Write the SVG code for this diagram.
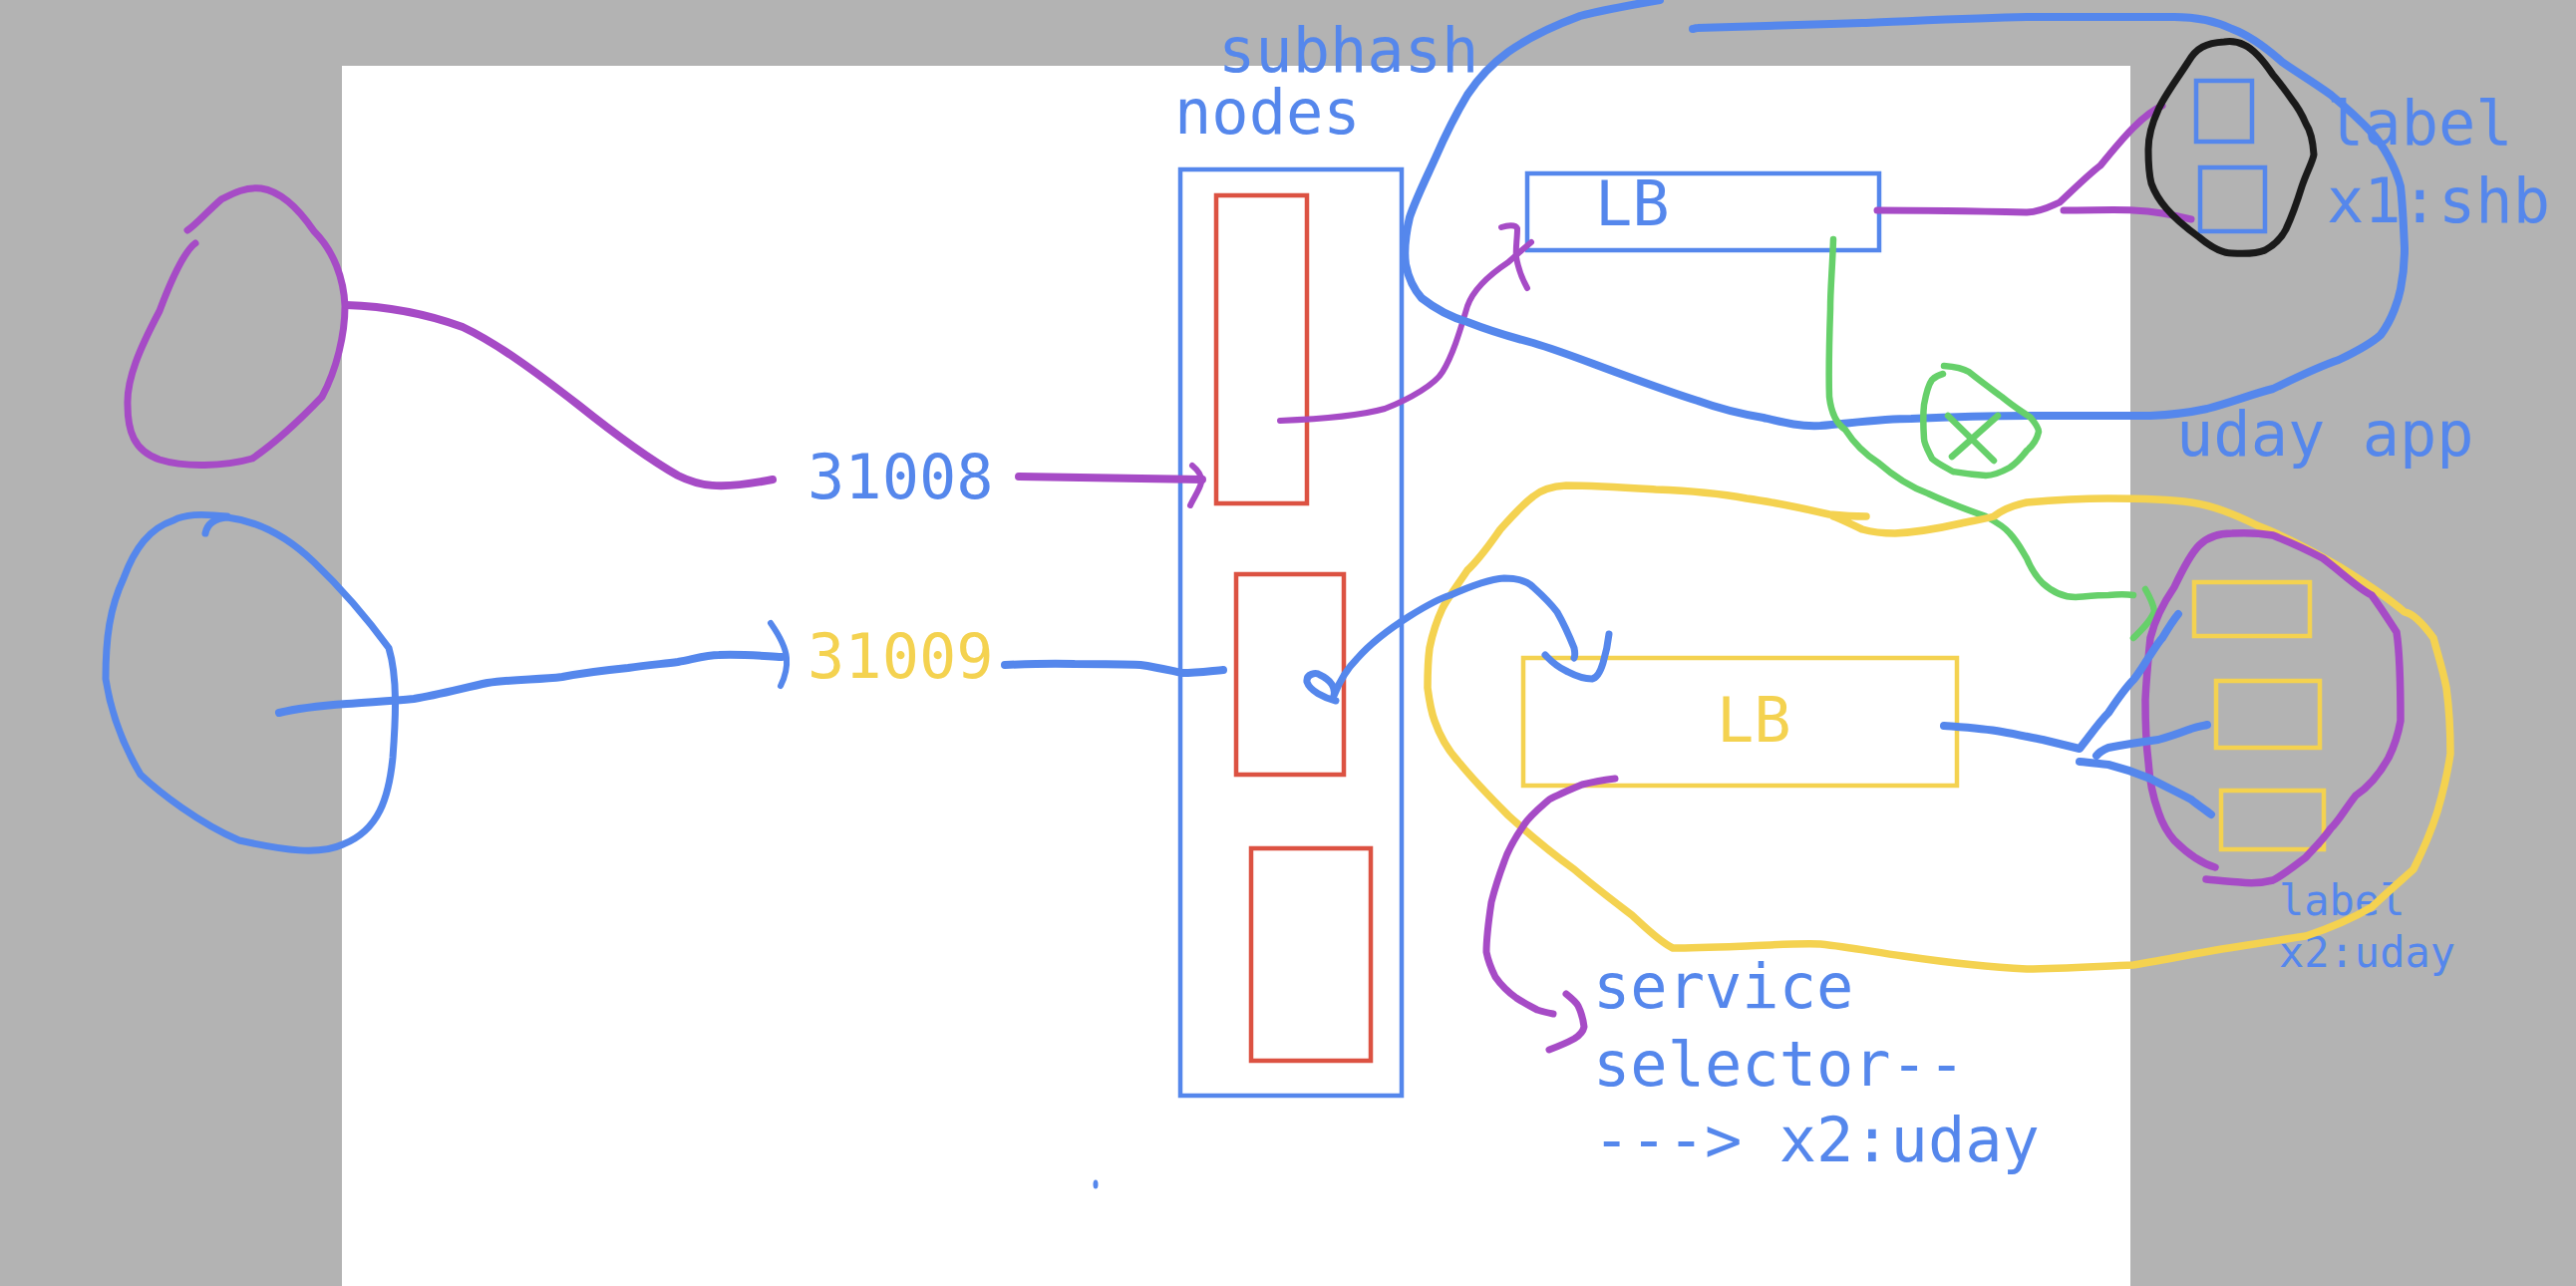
<svg xmlns="http://www.w3.org/2000/svg" width="2584" height="1290" viewBox="0 0 2584 1290">
<style>
.t{font-family:"DejaVu Sans Mono","Liberation Mono",monospace;font-size:62px;fill:#5587ec}
.ts{font-family:"DejaVu Sans Mono","Liberation Mono",monospace;font-size:42px;fill:#5587ec}
.ty{fill:#f4d250}
.box{fill:none;stroke-width:4.5}
.b{stroke:#5587ec}.r{stroke:#dc5242}.y{stroke:#f4d250}
.s{fill:none;stroke-linecap:round;stroke-linejoin:round}
.pu{stroke:#a64bc6}.bl{stroke:#5587ec}.gr{stroke:#66d06a}.ye{stroke:#f4d250}.bk{stroke:#1a1a1a}
</style>
<rect x="0" y="0" width="2584" height="1290" fill="#b3b3b3"/>
<rect x="343" y="66" width="1794" height="1224" fill="#ffffff"/>

<g id="nodes-group">
<rect class="box b" x="1184" y="170" width="222" height="929"/>
<text class="t" x="1222" y="72">subhash</text>
<text class="t" x="1178" y="134">nodes</text>
</g>
<g id="node-pod1"><rect class="box r" x="1220" y="196" width="91" height="309"/></g>
<g id="node-pod2"><rect class="box r" x="1240" y="576" width="108" height="201"/></g>
<g id="node-pod3"><rect class="box r" x="1255" y="851" width="120" height="213"/></g>

<g id="lb-top"><rect class="box b" x="1532" y="174" width="353" height="77"/><text class="t" x="1600" y="226">LB</text></g>
<g id="lb-bottom"><rect class="box y" x="1528" y="660" width="435" height="128"/><text class="t ty" x="1722" y="744">LB</text></g>

<g id="port-31008"><text class="t" x="810" y="500">31008</text></g>
<g id="port-31009"><text class="t ty" x="810" y="680">31009</text></g>

<g id="shb-pods">
<rect class="box b" x="2203" y="81" width="56" height="61"/>
<rect class="box b" x="2207" y="168" width="65" height="64"/>
<text class="t" x="2334" y="145">label</text>
<text class="t" x="2334" y="223">x1:shb</text>
</g>
<g id="uday-app"><text class="t" x="2183" y="457">uday app</text></g>
<g id="uday-pods">
<rect class="box y" x="2201" y="584" width="116" height="54"/>
<rect class="box y" x="2223" y="683" width="104" height="67"/>
<rect class="box y" x="2228" y="793" width="103" height="59"/>
<text class="ts" x="2286" y="918">label</text>
<text class="ts" x="2286" y="970">x2:uday</text>
</g>
<g id="service-note">
<text class="t" x="1598" y="1011">service</text>
<text class="t" x="1598" y="1089">selector--</text>
<text class="t" x="1598" y="1165">---&gt; x2:uday</text>
</g>
<g id="client-purple"><path class="s pu" stroke-width="7" d="M196,244 C185,252 172,280 160,312 C140,350 127,380 128,406 C128,432 134,452 160,461 C185,469 225,468 253,460 C275,445 302,420 323,398 C338,370 346,335 346,307 C345,280 335,252 315,232 C300,210 282,192 262,189 C245,187 230,196 222,200 C208,212 196,226 188,231"/></g>
<g id="client-blue"><path class="s bl" stroke-width="7" d="M206,535 C208,525 215,520 228,519 C260,523 290,540 315,564 C340,588 368,620 390,650 C399,680 397,720 394,760 C390,800 380,833 344,847 C320,858 285,853 240,843 C200,826 160,795 141,777 C125,750 112,720 106,681 C106,640 110,610 124,580 C135,550 150,530 174,522 C185,516 200,515 228,518"/></g>

<g id="connectors">
<path class="s pu" stroke-width="8" d="M347,306 C380,307 420,312 464,328 C500,345 540,375 580,406 C610,430 650,460 680,477 C700,487 720,492 775,481"/>
<path class="s pu" stroke-width="8" d="M1022,478 L1206,481"/>
<path class="s pu" stroke-width="6" d="M1196,467 C1202,472 1206,478 1205,484 C1203,492 1197,500 1194,507"/>
<path class="s pu" stroke-width="6" d="M1284,422 C1310,421 1360,418 1389,410 C1415,400 1440,385 1447,373 C1458,355 1465,330 1472,307 C1478,290 1495,275 1513,263 C1522,255 1530,248 1536,243"/>
<path class="s pu" stroke-width="6" d="M1506,228 C1512,226 1520,225 1522,229 C1522,240 1520,250 1521,258 C1523,270 1527,280 1532,289"/>
<path class="s pu" stroke-width="7" d="M1883,211 C1920,211 1990,212 2033,213 C2050,212 2060,205 2066,203 C2080,190 2095,175 2107,166 C2120,150 2130,138 2140,128 C2150,118 2160,110 2169,106"/>
<path class="s pu" stroke-width="7" d="M2070,211 C2100,211 2125,210 2140,211 C2160,212 2175,214 2198,220"/>
<path class="s bk" stroke-width="7" d="M2231,42 C2213,43 2203,48 2195,62 C2182,82 2170,98 2165,110 C2158,125 2155,140 2155,150 C2155,165 2156,176 2158,184 C2162,195 2167,202 2173,209 C2184,222 2195,230 2206,238 C2218,248 2228,254 2239,254 C2255,255 2265,254 2272,251 C2283,245 2289,238 2293,230 C2300,215 2305,200 2309,187 C2314,172 2320,162 2321,155 C2320,140 2317,130 2313,124 C2308,112 2303,105 2299,100 C2292,90 2286,82 2280,75 C2270,60 2260,49 2251,45 C2245,42 2238,41 2231,42 Z"/>
<path class="s bl" stroke-width="8" d="M1665,0 C1630,6 1600,12 1585,16 C1558,26 1530,40 1513,52 C1495,65 1482,80 1472,95 C1460,115 1450,135 1440,158 C1430,180 1420,200 1414,218 C1410,235 1408,250 1410,265 C1413,280 1418,290 1426,299 C1440,310 1455,318 1472,323 C1495,332 1515,338 1538,344 C1565,352 1590,362 1620,373 C1650,384 1680,395 1703,402 C1725,410 1745,415 1769,419 C1790,424 1805,428 1826,427 C1860,424 1890,420 1917,420 C1960,418 2000,417 2033,417 C2080,417 2120,417 2157,417 C2180,416 2200,413 2214,410 C2240,403 2260,395 2280,390 C2305,378 2325,368 2346,361 C2365,352 2378,345 2388,336 C2400,320 2406,300 2408,290 C2412,270 2412,255 2412,249 C2411,225 2410,205 2408,187 C2402,165 2390,145 2379,133 C2365,118 2350,105 2338,95 C2320,82 2300,70 2289,62 C2270,45 2255,35 2239,29 C2220,20 2200,17 2181,17 C2130,17 2080,17 2033,17 C1980,18 1920,21 1868,23 C1810,25 1750,27 1703,28 C1700,28 1699,29 1698,29"/>
<path class="s gr" stroke-width="6.5" d="M1839,240 C1838,270 1836,290 1836,310 C1835,340 1834,370 1835,398 C1837,415 1842,425 1851,431 C1860,445 1870,455 1884,464 C1900,478 1915,488 1934,495 C1955,505 1975,512 1992,518 C2005,525 2012,530 2016,535 C2025,545 2028,552 2033,560 C2038,572 2042,578 2049,585 C2060,595 2070,599 2082,599 C2095,598 2105,597 2115,597 C2125,596 2133,596 2140,597"/>
<path class="s gr" stroke-width="6.5" d="M2152,591 C2156,598 2160,605 2161,613 C2158,623 2148,632 2140,640"/>
<path class="s gr" stroke-width="6.5" d="M1950,367 C1962,368 1970,370 1975,373 C1990,385 2000,392 2008,398 C2020,408 2030,414 2037,419 C2042,425 2045,430 2045,433 C2043,442 2038,448 2033,452 C2027,460 2022,465 2016,469 C2005,475 1998,477 1992,477 C1975,476 1965,474 1959,473 C1950,468 1942,464 1938,460 C1933,450 1930,445 1930,440 C1929,425 1929,415 1930,406 C1932,395 1935,385 1938,381 C1942,377 1945,376 1949,375"/>
<path class="s gr" stroke-width="6.5" d="M1954,417 L2000,462 M2004,417 L1958,458"/>
<path class="s ye" stroke-width="7.5" d="M1872,518 C1860,518 1845,517 1835,516 C1800,508 1775,503 1752,500 C1720,494 1690,492 1661,491 C1630,489 1600,487 1571,487 C1555,488 1545,492 1538,498 C1525,508 1515,520 1505,531 C1495,545 1485,560 1472,572 C1460,590 1452,600 1447,610 C1440,625 1436,640 1434,650 C1432,665 1432,678 1432,690 C1434,705 1436,715 1439,723 C1445,740 1452,752 1463,764 C1480,785 1495,800 1513,818 C1535,838 1555,855 1579,872 C1600,890 1620,905 1637,918 C1650,930 1665,945 1678,951 C1700,951 1725,950 1752,949 C1780,948 1805,946 1826,947 C1855,950 1880,955 1909,959 C1950,965 1990,970 2033,972 C2070,972 2110,969 2140,968 C2170,963 2200,957 2223,953 C2255,948 2285,943 2313,939 C2340,930 2362,920 2379,910 C2395,895 2410,882 2421,872 C2432,850 2440,830 2445,814 C2452,790 2456,770 2458,756 C2458,730 2456,705 2454,690 C2450,670 2445,655 2441,640 C2430,625 2420,615 2412,614 C2390,595 2365,580 2346,568 C2315,550 2285,535 2264,527 C2240,515 2220,507 2198,504 C2170,500 2140,500 2115,500 C2085,500 2055,502 2033,504 C2015,508 2005,514 2000,518 C1990,521 1975,523 1967,525 C1945,530 1920,534 1901,535 C1885,535 1875,533 1868,531 C1855,525 1845,520 1839,518"/>
<path class="s pu" stroke-width="7.5" d="M2222,870 C2205,865 2190,852 2181,843 C2170,830 2167,820 2165,814 C2158,795 2156,780 2155,764 C2152,740 2152,720 2152,702 C2153,680 2155,660 2157,640 C2162,620 2170,605 2181,589 C2190,570 2198,555 2206,547 C2215,538 2228,535 2239,535 C2255,534 2268,535 2280,537 C2300,545 2315,552 2330,560 C2350,575 2365,590 2379,597 C2390,612 2398,625 2404,634 C2408,660 2408,700 2408,723 C2405,740 2400,752 2396,760 C2385,780 2375,790 2363,798 C2352,812 2345,825 2338,831 C2328,845 2320,852 2313,860 C2300,870 2290,878 2280,883 C2268,886 2255,886 2247,885 C2235,884 2222,883 2213,882"/>
<path class="s bl" stroke-width="8" d="M280,715 C300,710 320,708 348,706 C375,704 395,703 415,701 C440,697 465,690 489,685 C515,681 540,682 564,679 C590,674 610,672 630,670 C650,667 665,666 680,664 C700,660 710,657 721,657 C745,656 765,658 784,659"/>
<path class="s bl" stroke-width="6" d="M773,625 C780,635 788,648 789,660 C790,672 787,680 783,688"/>
<path class="s bl" stroke-width="8" d="M1008,667 C1030,666 1055,665 1078,666 C1100,666 1125,666 1144,667 C1165,670 1175,673 1186,675 C1200,675 1215,673 1227,672"/>
<path class="s bl" stroke-width="7" d="M1340,703 C1328,700 1314,693 1311,684 C1310,676 1320,674 1324,677 C1335,682 1340,690 1338,698 C1343,685 1350,672 1361,661 C1375,645 1395,630 1414,618 C1430,608 1445,600 1455,597 C1475,588 1495,581 1509,580 C1525,580 1533,584 1538,589 C1548,598 1556,606 1562,614 C1570,628 1575,640 1579,650 C1580,655 1580,658 1579,660"/>
<path class="s bl" stroke-width="7" d="M1614,636 C1613,645 1611,655 1608,665 C1605,675 1602,680 1597,681 C1585,681 1577,676 1571,673 C1560,668 1555,662 1550,657"/>
<path class="s bl" stroke-width="8" d="M1950,728 C1975,730 1990,731 2008,734 C2025,737 2038,740 2049,742 C2065,746 2078,749 2086,751 C2095,740 2105,725 2115,715 C2125,700 2132,690 2140,682 C2148,672 2152,664 2157,657 C2163,648 2166,643 2169,640 C2175,630 2180,622 2185,616"/>
<path class="s bl" stroke-width="8" d="M2103,758 C2106,754 2110,752 2115,750 C2135,746 2150,744 2165,742 C2180,738 2190,734 2198,731 C2205,729 2210,728 2214,727"/>
<path class="s bl" stroke-width="8" d="M2086,764 C2097,765 2105,766 2115,767 C2135,772 2145,776 2157,781 C2170,788 2185,795 2198,802 C2205,808 2212,812 2218,817"/>
<path class="s pu" stroke-width="7" d="M1620,781 C1605,783 1595,785 1587,787 C1575,792 1563,797 1554,802 C1545,810 1535,818 1529,827 C1520,840 1513,852 1509,864 C1503,880 1499,893 1496,905 C1493,925 1491,940 1491,955 C1493,965 1496,972 1500,980 C1507,990 1514,996 1521,1001 C1530,1007 1536,1010 1542,1013 C1548,1015 1553,1016 1558,1017"/>
<path class="s pu" stroke-width="7" d="M1571,997 C1576,1001 1581,1005 1583,1009 C1586,1015 1588,1022 1589,1030 C1588,1035 1584,1039 1579,1042 C1570,1047 1562,1050 1554,1053"/>
</g>
<ellipse cx="1099" cy="1188" rx="2.5" ry="4.5" fill="#5587ec"/>
</svg>
